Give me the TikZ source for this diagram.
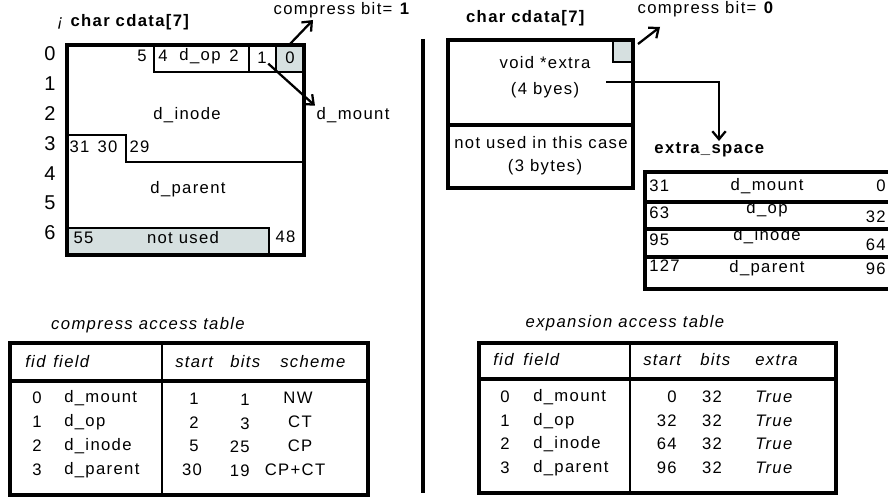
\documentclass[tikz,border=0pt]{standalone}
\usepackage{fontspec}
\setmainfont{Liberation Sans}[LetterSpace=8]
\usetikzlibrary{arrows.meta}
\definecolor{cellgray}{RGB}{214,224,224}

\begin{document}
\begin{tikzpicture}[x=0.75pt,y=-0.75pt,font=\fontsize{12.5}{14}\selectfont,
    wall/.style={line width=2.3pt},
    rule/.style={line width=1.8pt},
    arr/.style={line width=1.7pt,-{Straight Barb[length=6pt,width=10pt]}}]

  \useasboundingbox (0,0) rectangle (888,499);
  \clip (0,0) rectangle (888,499);

  \fill[cellgray] (276,45) rectangle (304,72);
  \fill[cellgray] (69,228) rectangle (269,255);
  \draw[wall] (67,45) rectangle (304,255);
  \draw[rule] (154,45) |- (304,72);
  \draw[rule] (249,45) -- (249,72);
  \draw[rule] (276,45) -- (276,72);
  \draw[rule] (67,135) -| (126,162) -- (304,162);
  \draw[rule] (69,228) -| (269,255);

  \fill[cellgray] (613,40) rectangle (633,62);
  \draw[rule] (613,40) |- (633,62);
  \draw[wall] (448,40) rectangle (633,188);
  \draw[wall] (448,125) -- (633,125);

  \draw[wall] (645,172) rectangle (900,289);
  \draw[wall] (645,202) -- (900,202);
  \draw[wall] (645,229) -- (900,229);
  \draw[wall] (645,257) -- (900,257);

  \draw[wall] (423,39) -- (423,493);

  \draw[wall] (10,343) rectangle (368,495);
  \draw[wall] (10,381) -- (368,381);
  \draw[rule] (162,343) -- (162,495);
  \draw[wall] (479,343) rectangle (836,493);
  \draw[wall] (479,379) -- (836,379);
  \draw[rule] (630,343) -- (630,493);

  \begin{scope}[every node/.style={inner sep=1pt}]
    \node (t1)  at (124,22) {\textit{¡} \textbf{char cdata[7]}};
    \node (t2)  at (526,18) {\textbf{char cdata[7]}};
    \node[anchor=west] (cb1) at (272,10) {compress bit= \textbf{1}};
    \node[anchor=west] (cb2) at (636,9)  {compress bit= \textbf{0}};
    \node (b5)  at (142,56) {5};
    \node (b4)  at (163,56) {4};
    \node (op)  at (200,56) {d\_op};
    \node (b2)  at (234,56) {2};
    \node (b1)  at (262,58) {1};
    \node (b0)  at (290,58) {0};
    \node (ino) at (187,115) {d\_inode};
    \node[anchor=west] (b31) at (68,147) {31};
    \node[anchor=west] (b30) at (96,147) {30};
    \node[anchor=west] (b29) at (128,147) {29};
    \node (par) at (188,189) {d\_parent};
    \node[anchor=west] (b55) at (72,238) {55};
    \node (nu)  at (183,238) {not used};
    \node[anchor=west] (b48) at (274,237) {48};
    \node (mnt) at (353,115) {d\_mount};
    \node (vx)  at (545,63)  {void *extra};
    \node (vb)  at (545,90)  {(4 byes)};
    \node (nx)  at (541,143) {not used in this case};
    \node (nb)  at (545,167) {(3 bytes)};
    \node (xsp) at (710,150) {\textbf{extra\_space}};
  \end{scope}

  \begin{scope}[every node/.style={font=\fontsize{15}{17}\selectfont}]
    \node (r0) at (50,54)  {0};
    \node (r1) at (50,84)  {1};
    \node (r2) at (50,114) {2};
    \node (r3) at (50,144) {3};
    \node (r4) at (50,174) {4};
    \node (r5) at (50,203) {5};
    \node (r6) at (50,233) {6};
  \end{scope}

  \begin{scope}[every node/.style={inner sep=0pt}]
    \node[anchor=west] (x31)  at (649,186) {31};
    \node[anchor=west] (x63)  at (649,213) {63};
    \node[anchor=west] (x95)  at (649,240) {95};
    \node[anchor=west] (x127) at (649,266) {127};
    \node (xm) at (767,186) {d\_mount};
    \node (xo) at (767,209) {d\_op};
    \node (xi) at (767,236) {d\_inode};
    \node (xp) at (767,268) {d\_parent};
    \node[anchor=east] (x0)  at (886,186) {0};
    \node[anchor=east] (x32) at (886,217) {32};
    \node[anchor=east] (x64) at (886,245) {64};
    \node[anchor=east] (x96) at (886,269) {96};
  \end{scope}

  \coordinate (c1) at (290,44);
  \coordinate (c1tip) at (313,20);
  \coordinate (c2) at (638,44);
  \coordinate (c2tip) at (660,27);
  \coordinate (xptr) at (606,82);
  \coordinate (xtip) at (719,141);
  \draw[arr] (c1) -- (c1tip);
  \draw[arr] (b1) -- (mnt.north west);
  \draw[arr] (c2) -- (c2tip);
  \draw[arr] (xptr) -| (xtip);

  \begin{scope}[every node/.style={inner sep=0pt,font=\fontsize{12.5}{14}\selectfont\itshape}]
    \node (ct) at (148,325) {compress access table};
    \node (et) at (625,323) {expansion access table};
    \node[anchor=west] (h1) at (25,362)  {fid};
    \node[anchor=west] (h2) at (53,362)  {field};
    \node[anchor=west] (h3) at (175,362) {start};
    \node[anchor=west] (h4) at (230,362) {bits};
    \node[anchor=west] (h5) at (280,362) {scheme};
    \node[anchor=west] (k1) at (493,360) {fid};
    \node[anchor=west] (k2) at (523,360) {field};
    \node[anchor=west] (k3) at (643,360) {start};
    \node[anchor=west] (k4) at (700,360) {bits};
    \node[anchor=west] (k5) at (755,360) {extra};
    \node[anchor=west] (e0) at (755,397) {True};
    \node[anchor=west] (e1) at (755,421) {True};
    \node[anchor=west] (e2) at (755,444) {True};
    \node[anchor=west] (e3) at (755,468) {True};
  \end{scope}

  \begin{scope}[every node/.style={inner sep=0pt}]
    \node (f0) at (37,398) {0};
    \node (f1) at (37,422) {1};
    \node (f2) at (37,446) {2};
    \node (f3) at (37,470) {3};
    \node[anchor=west] (n0) at (64,398) {d\_mount};
    \node[anchor=west] (n1) at (64,422) {d\_op};
    \node[anchor=west] (n2) at (64,446) {d\_inode};
    \node[anchor=west] (n3) at (64,470) {d\_parent};
    \node (s0) at (194,399) {1};
    \node (s1) at (194,423) {2};
    \node (s2) at (194,446) {5};
    \node (s3) at (192,470) {30};
    \node[anchor=east] (w0) at (250,400) {1};
    \node[anchor=east] (w1) at (250,424) {3};
    \node[anchor=east] (w2) at (250,447) {25};
    \node[anchor=east] (w3) at (250,471) {19};
    \node (m0) at (298,398) {NW};
    \node (m1) at (300,422) {CT};
    \node (m2) at (300,446) {CP};
    \node (m3) at (295,470) {CP+CT};
    \node (g0) at (505,397) {0};
    \node (g1) at (505,421) {1};
    \node (g2) at (505,444) {2};
    \node (g3) at (505,468) {3};
    \node[anchor=west] (q0) at (533,397) {d\_mount};
    \node[anchor=west] (q1) at (533,421) {d\_op};
    \node[anchor=west] (q2) at (533,444) {d\_inode};
    \node[anchor=west] (q3) at (533,468) {d\_parent};
    \node[anchor=east] (a0) at (677,397) {0};
    \node[anchor=east] (a1) at (677,421) {32};
    \node[anchor=east] (a2) at (677,444) {64};
    \node[anchor=east] (a3) at (677,468) {96};
    \node (z0) at (712,397) {32};
    \node (z1) at (712,421) {32};
    \node (z2) at (712,444) {32};
    \node (z3) at (712,468) {32};
  \end{scope}

\end{tikzpicture}
\end{document}
